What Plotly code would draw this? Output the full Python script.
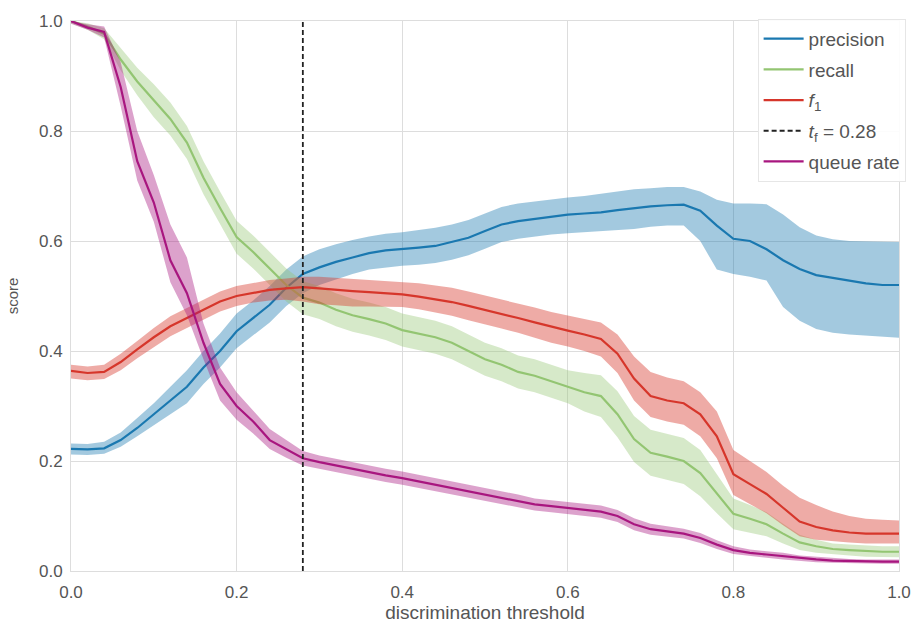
import plotly.graph_objects as go

thresholds = [0.00, 0.02, 0.04, 0.06, 0.08, 0.10, 0.12, 0.14, 0.16, 0.18,
              0.20, 0.22, 0.24, 0.26, 0.28, 0.30, 0.32, 0.34, 0.36, 0.38,
              0.40, 0.42, 0.44, 0.46, 0.48, 0.50, 0.52, 0.54, 0.56, 0.58,
              0.60, 0.62, 0.64, 0.66, 0.68, 0.70, 0.72, 0.74, 0.76, 0.78,
              0.80, 0.82, 0.84, 0.86, 0.88, 0.90, 0.92, 0.94, 0.96, 0.98, 1.00]

precision = [0.222, 0.221, 0.223, 0.238, 0.26, 0.285, 0.31, 0.335, 0.37, 0.40,
             0.436, 0.46, 0.484, 0.515, 0.54, 0.552, 0.562, 0.57, 0.578, 0.583,
             0.585, 0.588, 0.591, 0.598, 0.606, 0.618, 0.63, 0.636, 0.64, 0.645,
             0.648, 0.65, 0.652, 0.656, 0.66, 0.663, 0.665, 0.666, 0.655, 0.628,
             0.604, 0.60, 0.585, 0.565, 0.549, 0.538, 0.533, 0.528, 0.523, 0.52, 0.52]
precision_lo = [0.212, 0.211, 0.213, 0.226, 0.245, 0.265, 0.285, 0.305, 0.34, 0.37,
                0.405, 0.428, 0.452, 0.482, 0.505, 0.52, 0.53, 0.54, 0.548, 0.552,
                0.555, 0.557, 0.56, 0.566, 0.574, 0.586, 0.598, 0.604, 0.608, 0.612,
                0.614, 0.616, 0.618, 0.62, 0.622, 0.626, 0.628, 0.628, 0.60, 0.548,
                0.54, 0.535, 0.528, 0.48, 0.455, 0.44, 0.433, 0.43, 0.428, 0.425, 0.424]
precision_hi = [0.232, 0.231, 0.235, 0.252, 0.278, 0.305, 0.335, 0.365, 0.40, 0.432,
                0.468, 0.492, 0.518, 0.548, 0.572, 0.585, 0.594, 0.602, 0.608, 0.613,
                0.616, 0.62, 0.624, 0.63, 0.638, 0.65, 0.662, 0.668, 0.672, 0.676,
                0.679, 0.682, 0.686, 0.69, 0.694, 0.696, 0.698, 0.698, 0.69, 0.675,
                0.668, 0.668, 0.667, 0.648, 0.625, 0.61, 0.603, 0.60, 0.599, 0.598, 0.598]

recall = [1.0, 0.99, 0.977, 0.93, 0.89, 0.855, 0.822, 0.779, 0.715, 0.66,
          0.607, 0.58, 0.55, 0.52, 0.497, 0.488, 0.475, 0.465, 0.458, 0.45,
          0.438, 0.432, 0.425, 0.415, 0.40, 0.385, 0.375, 0.362, 0.355, 0.345,
          0.335, 0.325, 0.318, 0.285, 0.24, 0.215, 0.208, 0.20, 0.178, 0.14,
          0.104, 0.095, 0.085, 0.068, 0.052, 0.045, 0.04, 0.038, 0.036, 0.035, 0.035]
recall_lo = [0.996, 0.984, 0.967, 0.91, 0.865, 0.825, 0.792, 0.749, 0.685, 0.63,
             0.577, 0.55, 0.52, 0.49, 0.467, 0.458, 0.445, 0.435, 0.428, 0.42,
             0.408, 0.402, 0.395, 0.385, 0.37, 0.355, 0.345, 0.332, 0.325, 0.315,
             0.305, 0.29, 0.28, 0.243, 0.198, 0.173, 0.166, 0.158, 0.136, 0.105,
             0.076, 0.07, 0.063, 0.05, 0.038, 0.033, 0.03, 0.028, 0.026, 0.025, 0.025]
recall_hi = [1.0, 0.996, 0.987, 0.95, 0.915, 0.885, 0.852, 0.809, 0.745, 0.69,
             0.637, 0.61, 0.58, 0.55, 0.527, 0.518, 0.505, 0.495, 0.488, 0.48,
             0.468, 0.462, 0.455, 0.445, 0.43, 0.415, 0.405, 0.392, 0.385, 0.375,
             0.365, 0.36, 0.356, 0.327, 0.282, 0.257, 0.25, 0.242, 0.22, 0.175,
             0.132, 0.12, 0.107, 0.086, 0.066, 0.057, 0.05, 0.048, 0.046, 0.045, 0.045]

f1 = [0.364, 0.36, 0.362, 0.38, 0.403, 0.425, 0.445, 0.46, 0.475, 0.49,
      0.50, 0.506, 0.511, 0.514, 0.516, 0.514, 0.511, 0.509, 0.507, 0.505,
      0.503, 0.499, 0.494, 0.489, 0.482, 0.475, 0.468, 0.46, 0.452, 0.444,
      0.437, 0.43, 0.422, 0.395, 0.35, 0.318, 0.31, 0.305, 0.285, 0.245,
      0.176, 0.158, 0.14, 0.115, 0.09, 0.08, 0.074, 0.07, 0.068, 0.068, 0.068]
f1_lo = [0.35, 0.347, 0.349, 0.365, 0.387, 0.407, 0.427, 0.442, 0.457, 0.472,
         0.482, 0.488, 0.492, 0.493, 0.49, 0.485, 0.483, 0.481, 0.481, 0.481,
         0.48, 0.476, 0.47, 0.464, 0.456, 0.449, 0.441, 0.433, 0.424, 0.415,
         0.408, 0.40, 0.39, 0.36, 0.31, 0.28, 0.272, 0.266, 0.245, 0.205,
         0.138, 0.122, 0.105, 0.083, 0.063, 0.057, 0.054, 0.052, 0.05, 0.05, 0.05]
f1_hi = [0.375, 0.372, 0.375, 0.395, 0.418, 0.442, 0.463, 0.478, 0.493, 0.508,
         0.518, 0.524, 0.529, 0.532, 0.535, 0.535, 0.533, 0.531, 0.53, 0.528,
         0.526, 0.523, 0.519, 0.515, 0.508, 0.501, 0.494, 0.487, 0.479, 0.471,
         0.465, 0.458, 0.452, 0.43, 0.39, 0.362, 0.352, 0.345, 0.325, 0.29,
         0.22, 0.20, 0.18, 0.155, 0.133, 0.12, 0.108, 0.10, 0.095, 0.093, 0.092]

queue_rate = [1.0, 0.988, 0.98, 0.88, 0.745, 0.67, 0.565, 0.505, 0.415, 0.34,
              0.30, 0.272, 0.238, 0.222, 0.205, 0.198, 0.192, 0.186, 0.179, 0.174,
              0.169, 0.163, 0.157, 0.152, 0.146, 0.14, 0.133, 0.127, 0.121, 0.118,
              0.115, 0.112, 0.108, 0.10, 0.085, 0.076, 0.072, 0.068, 0.06, 0.048,
              0.038, 0.033, 0.03, 0.027, 0.023, 0.021, 0.019, 0.018, 0.017, 0.017, 0.017]
queue_lo = [0.995, 0.984, 0.97, 0.845, 0.71, 0.635, 0.525, 0.465, 0.385, 0.31,
            0.275, 0.25, 0.222, 0.206, 0.192, 0.186, 0.18, 0.174, 0.167, 0.162,
            0.157, 0.151, 0.145, 0.14, 0.134, 0.128, 0.121, 0.115, 0.11, 0.107,
            0.104, 0.101, 0.097, 0.089, 0.074, 0.066, 0.063, 0.059, 0.051, 0.04,
            0.031, 0.027, 0.024, 0.021, 0.018, 0.016, 0.015, 0.014, 0.013, 0.013, 0.013]
queue_hi = [1.0, 0.994, 0.99, 0.925, 0.80, 0.72, 0.63, 0.57, 0.45, 0.37,
            0.325, 0.292, 0.258, 0.238, 0.218, 0.21, 0.204, 0.198, 0.191, 0.186,
            0.181, 0.175, 0.169, 0.164, 0.158, 0.152, 0.145, 0.139, 0.132, 0.129,
            0.126, 0.123, 0.119, 0.111, 0.096, 0.086, 0.081, 0.077, 0.069, 0.056,
            0.045, 0.039, 0.036, 0.033, 0.028, 0.026, 0.023, 0.022, 0.021, 0.021, 0.021]

best_threshold = 0.28
x_ticks = [0.0, 0.2, 0.4, 0.6, 0.8, 1.0]
y_ticks = [0.0, 0.2, 0.4, 0.6, 0.8, 1.0]

series = [
    ("precision", precision, precision_lo, precision_hi, "#1a78b0", "rgba(26,120,176,0.40)"),
    ("recall", recall, recall_lo, recall_hi, "#93c572", "rgba(147,197,114,0.38)"),
    ("<i>f</i><sub>1</sub>", f1, f1_lo, f1_hi, "#d6362b", "rgba(214,54,43,0.42)"),
    ("queue rate", queue_rate, queue_lo, queue_hi, "#a8167f", "rgba(168,22,127,0.40)"),
]

fig = go.Figure()
for i, (name, med, lo, hi, col, fillcol) in enumerate(series):
    grp = "g%d" % i
    fig.add_trace(go.Scatter(x=thresholds, y=hi, mode="lines", line=dict(width=0, color=fillcol),
                             showlegend=False, legendgroup=grp, hoverinfo="skip"))
    fig.add_trace(go.Scatter(x=thresholds, y=lo, mode="lines", line=dict(width=0, color=fillcol),
                             fill="tonexty", fillcolor=fillcol,
                             showlegend=False, legendgroup=grp, hoverinfo="skip"))
    fig.add_trace(go.Scatter(x=thresholds, y=med, mode="lines", name=name,
                             line=dict(color=col, width=2.2), legendgroup=grp,
                             legendrank=[1, 2, 3, 5][i]))

fig.add_trace(go.Scatter(x=[best_threshold, best_threshold], y=[0, 1], mode="lines",
                         name="<i>t</i><sub>f</sub> = %.2f" % best_threshold,
                         line=dict(color="#222222", width=1.8, dash="5px,3px"),
                         legendgroup="thr", legendrank=4))

axis_common = dict(
    range=[0, 1], showgrid=True, gridcolor="#dddddd", gridwidth=1,
    showline=True, linecolor="#dddddd", linewidth=1, mirror=True,
    zeroline=False, ticks="", tickfont=dict(size=17, color="#555555"),
    tickformat=".1f",
)

fig.update_layout(
    width=923, height=631,
    margin=dict(l=70, r=18, t=14, b=60),
    paper_bgcolor="white", plot_bgcolor="white",
    font=dict(family="Liberation Sans, Arial, sans-serif", color="#555555"),
    xaxis=dict(axis_common, tickvals=x_ticks, ticklabelstandoff=6,
               title=dict(text="discrimination threshold", font=dict(size=19, color="#555555"), standoff=2)),
    yaxis=dict(axis_common, tickvals=y_ticks, ticklabelstandoff=4,
               title=dict(text="score", font=dict(size=15, color="#555555"), standoff=16)),
    legend=dict(x=1.008, y=1.004, xanchor="right", yanchor="top",
                bgcolor="rgba(255,255,255,0.9)", bordercolor="#e6e6e6", borderwidth=1,
                font=dict(size=19, color="#555555"), tracegroupgap=3,
                traceorder="grouped", itemwidth=40),
    showlegend=True,
)

fig.write_html("out.html")
